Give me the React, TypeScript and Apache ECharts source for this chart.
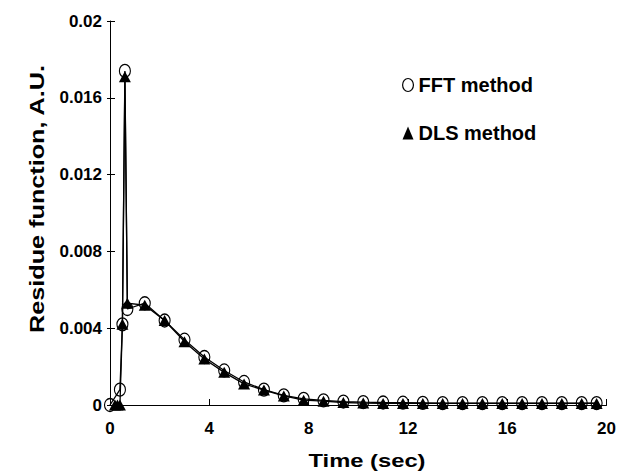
import React, { useEffect, useRef } from "react";
import * as echarts from "echarts";

const xTickValues = [0, 4, 8, 12, 16, 20];
const yTickLabels = ["0", "0.004", "0.008", "0.012", "0.016", "0.02"];

const fftTime = [0, 0.4, 0.5, 0.6, 0.7, 1.4, 2.2, 3.0, 3.8, 4.6, 5.4, 6.2, 7.0, 7.8, 8.6, 9.4, 10.2, 11.0, 11.8, 12.6, 13.4, 14.2, 15.0, 15.8, 16.6, 17.4, 18.2, 19.0, 19.6];
const fftValue = [0, 0.0008, 0.0042, 0.0174, 0.005, 0.0053, 0.0044, 0.0034, 0.0025, 0.0018, 0.0012, 0.0008, 0.0005, 0.00032, 0.00024, 0.00018, 0.00015, 0.00013, 0.00012, 0.00011, 0.0001, 0.0001, 0.0001, 0.0001, 0.0001, 0.0001, 0.0001, 0.0001, 0.0001];

const dlsTime = [0.2, 0.3, 0.4, 0.5, 0.6, 0.7, 1.4, 2.2, 3.0, 3.8, 4.6, 5.4, 6.2, 7.0, 7.8, 8.6, 9.4, 10.2, 11.0, 11.8, 12.6, 13.4, 14.2, 15.0, 15.8, 16.6, 17.4, 18.2, 19.0, 19.6];
const dlsValue = [0, 0, 0, 0.0042, 0.0171, 0.0053, 0.0052, 0.0044, 0.0033, 0.0024, 0.0017, 0.0011, 0.00078, 0.00047, 0.00025, 0.0002, 0.00013, 0.0001, 0.00008, 0.00008, 0.00008, 0.00008, 0.00008, 0.00008, 0.00008, 0.00008, 0.00008, 0.00008, 0.00008, 0.00008];

const seriesNames = ["FFT method", "DLS method"];
const xTitle = "Time (sec)";
const yTitle = "Residue function, A.U.";

const FONT = "'Liberation Sans', Arial, Helvetica, sans-serif";
const ELLIPSE = "path://M0,6 A5,6 0 1,0 10,6 A5,6 0 1,0 0,6 Z";

export default function App() {
  const ref = useRef<HTMLDivElement>(null);
  useEffect(() => {
    if (!ref.current) return;
    const chart = echarts.init(ref.current, null, { renderer: "svg" });
    const yMax = 0.02;
    const yStep = 0.004;
    chart.setOption({
      animation: false,
      backgroundColor: "#ffffff",
      grid: { left: 110, right: 8, top: 21, bottom: 66 },
      legend: {
        orient: "vertical",
        left: 397,
        top: 70,
        itemGap: 28,
        itemWidth: 11,
        itemHeight: 13,
        textStyle: { fontFamily: FONT, fontWeight: "bold", fontSize: 20, color: "#000" },
        data: [
          { name: seriesNames[0], icon: ELLIPSE, itemStyle: { color: "rgba(0,0,0,0)", borderColor: "#000", borderWidth: 1.2 } },
          { name: seriesNames[1], icon: "triangle", itemStyle: { color: "#000" } },
        ],
      },
      xAxis: {
        type: "value",
        min: 0,
        max: 20,
        interval: 4,
        axisLine: { show: true, lineStyle: { color: "#000", width: 1 } },
        axisTick: { show: true, inside: true, length: 6, lineStyle: { color: "#000" } },
        splitLine: { show: false },
        axisLabel: {
          color: "#000",
          fontFamily: FONT,
          fontWeight: "bold",
          fontSize: 17,
          margin: 15,
          formatter: (v: number) => (xTickValues.includes(v) ? String(v) : ""),
        },
      },
      yAxis: [
        {
          type: "value",
          min: 0,
          max: yMax,
          interval: yStep,
          axisLine: { show: true, lineStyle: { color: "#000", width: 1 } },
          axisTick: { show: true, inside: false, length: 3, lineStyle: { color: "#000" } },
          splitLine: { show: false },
          axisLabel: {
            color: "#000",
            fontFamily: FONT,
            fontWeight: "bold",
            fontSize: 17,
            margin: 8,
            formatter: (v: number) => yTickLabels[Math.round(v / yStep)] ?? "",
          },
        },
        {
          type: "value",
          position: "left",
          min: 0,
          max: yMax,
          interval: yStep,
          axisLine: { show: false },
          axisTick: { show: true, inside: true, length: 5, lineStyle: { color: "#000" } },
          splitLine: { show: false },
          axisLabel: { show: false },
        },
      ],
      series: [
        {
          name: seriesNames[0],
          type: "line",
          yAxisIndex: 0,
          data: fftTime.map((t, i) => [t, fftValue[i]]),
          symbol: ELLIPSE,
          symbolSize: [11, 13],
          showAllSymbol: true,
          clip: false,
          lineStyle: { color: "#000", width: 1.3 },
          itemStyle: { color: "rgba(0,0,0,0)", borderColor: "#000", borderWidth: 1.2 },
          z: 2,
        },
        {
          name: seriesNames[1],
          type: "line",
          yAxisIndex: 0,
          data: dlsTime.map((t, i) => [t, dlsValue[i]]),
          symbol: "triangle",
          symbolSize: [12, 11],
          showAllSymbol: true,
          clip: false,
          lineStyle: { color: "#000", width: 1.3 },
          itemStyle: { color: "#000" },
          z: 3,
        },
      ],
      graphic: [
        {
          type: "text",
          x: 37,
          y: 199,
          rotation: Math.PI / 2,
          scaleX: 1.2,
          style: {
            text: yTitle,
            font: `bold 21px ${FONT}`,
            fill: "#000",
            textAlign: "center",
            textVerticalAlign: "middle",
          },
        },
        {
          type: "text",
          x: 367,
          y: 461,
          scaleX: 1.25,
          style: {
            text: xTitle,
            font: `bold 19px ${FONT}`,
            fill: "#000",
            textAlign: "center",
            textVerticalAlign: "middle",
          },
        },
      ],
    });
    return () => chart.dispose();
  }, []);
  return (
    <div
      ref={ref}
      style={{ position: "absolute", left: 0, top: 0, width: 619, height: 471, background: "#fff" }}
    />
  );
}
